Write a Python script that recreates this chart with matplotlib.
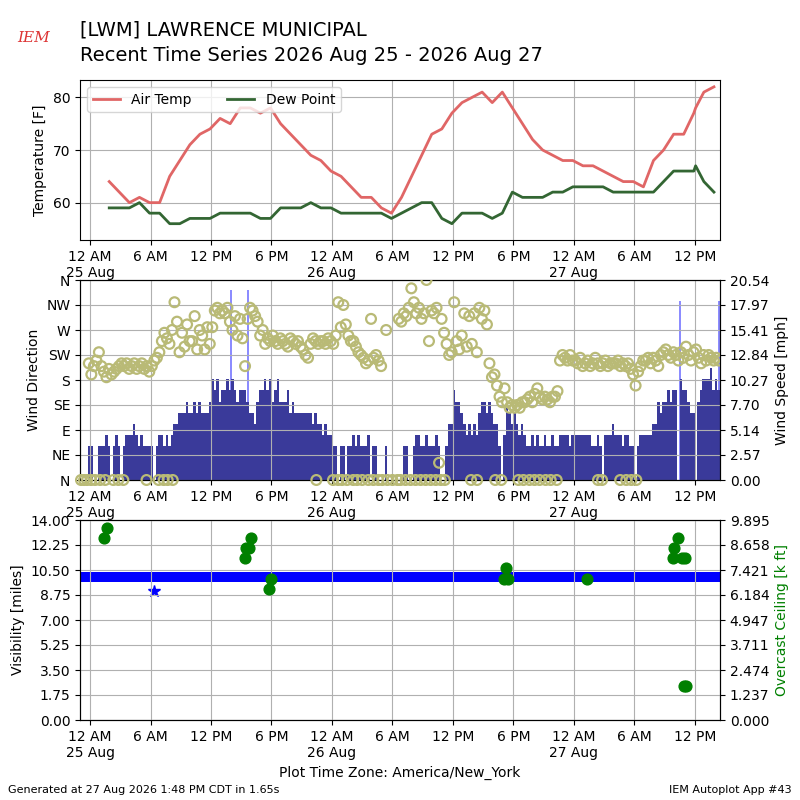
import numpy as np
import matplotlib
matplotlib.use("Agg")
import matplotlib.pyplot as plt
from matplotlib.ticker import FuncFormatter, FixedLocator

# hours are counted from 2026-08-25 00:00 (America/New_York)
nan = float("nan")

# hourly observations (at :54, plus one special at 12:05 on 27 Aug)
obs_hours = [1.9, 2.9, 3.9, 4.9, 5.9, 6.9, 7.9, 8.9, 9.9, 10.9, 11.9, 12.9,
             13.9, 14.9, 15.9, 16.9, 17.9, 18.9, 19.9, 20.9, 21.9, 22.9, 23.9,
             24.9, 25.9, 26.9, 27.9, 28.9, 29.9, 30.9, 31.9, 32.9, 33.9, 34.9,
             35.9, 36.9, 37.9, 38.9, 39.9, 40.9, 41.9, 42.9, 43.9, 44.9, 45.9,
             46.9, 47.9, 48.9, 49.9, 50.9, 51.9, 52.9, 53.9, 54.9, 55.9, 56.9,
             57.9, 58.9, 59.9, 60.08, 60.9, 61.9]
air_temp = [64, 62, 60, 61, 60, 60, 65, 68, 71, 73, 74, 76, 75, 78, 78, 77,
            78, 75, 73, 71, 69, 68, 66, 65, 63, 61, 61, 59, 58, 61, 65, 69,
            73, 74, 77, 79, 80, 81, 79, 81, 78, 75, 72, 70, 69, 68, 68, 67,
            67, 66, 65, 64, 64, 63, 68, 70, 73, 73, 77, 78, 81, 82]
dew_point = [59, 59, 59, 60, 58, 58, 56, 56, 57, 57, 57, 58, 58, 58, 58, 57,
             57, 59, 59, 59, 60, 59, 59, 58, 58, 58, 58, 58, 57, 58, 59, 60,
             60, 57, 56, 58, 58, 58, 57, 58, 62, 61, 61, 61, 62, 62, 63, 63,
             63, 63, 62, 62, 62, 62, 62, 64, 66, 66, 66, 67, 64, 62]

# one-minute wind, summarised as 15 minute values, one row per hour from -1
first_hour = -1
wind_speed_kt = [
    [0, 0, 0, 3], [3, 0, 0, 3], [3, 3, 4, 3], [0, 3, 4, 3], [0, 3, 4, 4],
    [4, 5, 4, 3], [4, 3, 3, 3], [3, 0, 3, 4], [4, 3, 4, 3], [4, 5, 5, 6],
    [6, 6, 7, 6], [6, 7, 6, 7], [6, 6, 6, 7], [9, 8, 9, 7], [8, 8, 9, 8],
    [9, 8, 7, 8], [8, 8, 7, 6], [6, 5, 7, 8], [8, 9, 8, 9], [7, 8, 9, 7],
    [7, 7, 8, 6], [7, 6, 6, 6], [6, 6, 6, 6], [5, 6, 5, 5], [4, 5, 4, 4],
    [3, 3, 0, 3], [3, 0, 3, 3], [4, 3, 4, 3], [3, 3, 4, 0], [3, 3, 0, 0],
    [0, 3, 0, 0], [0, 0, 0, 0], [3, 3, 0, 0], [3, 4, 4, 3], [3, 4, 3, 3],
    [3, 4, 3, 0], [0, 3, 5, 5], [8, 7, 7, 6], [5, 4, 5, 4], [5, 4, 6, 7],
    [7, 6, 7, 6], [5, 5, 3, 0], [4, 7, 6, 5], [6, 5, 4, 5], [4, 3, 3, 4],
    [3, 4, 3, 3], [4, 3, 3, 4], [3, 3, 4, 4], [4, 4, 3, 4], [4, 4, 4, 4],
    [4, 4, 4, 3], [3, 4, 3, 0], [4, 4, 4, 5], [4, 4, 4, 3], [4, 4, 3, 3],
    [0, 3, 4, 4], [4, 4, 4, 5], [5, 7, 6, 7], [7, 8, 7, 8], [8, 0, 9, 8],
    [8, 7, 6, 6], [0, 7, 8, 9], [9, 9, 10, 8], [9, 8],
]
wind_dir = [
    [nan, nan, nan, 210], [190, 205, 215, 230], [205, 195, 185, 200],
    [190, 195, 200, 205], [210, 205, 210, 200], [205, 210, 200, 205],
    [210, 200, 205, 195], [205, 215, 220, 230], [250, 265, 255, 245],
    [270, 320, 285, 230], [265, 240, 280, 250], [250, 295, 235, 270],
    [260, 235, 275, 245], [275, 305, 310, 300], [305, 300, 310, 285],
    [270, 295, 260, 290], [255, 205, 290, 310], [305, 295, 285, 260],
    [270, 245, 255, 250], [260, 250, 245, 255], [250, 245, 240, 255],
    [250, 245, 250, 240], [235, 225, 220, 245], [255, 250, 245, 250],
    [250, 245, 255, 250], [245, 260, 320, 275], [315, 280, 260, 250],
    [250, 240, 230, 225], [220, 210, 215, 290], [220, 225, 215, 205],
    [nan, 270, nan, nan], [nan, nan, 290, 285], [300, 295, 310, 345],
    [320, 300, 310, 290], [300, 360, 250, 305], [300, 310, 31, 290],
    [265, 245, 225, 230], [320, 250, 235, 260], [300, 240, 295, 245],
    [300, 230, 310, 290], [305, 280, 210, 185], [190, 170, 150, 140],
    [165, 140, 130, 135], [130, 135, 130, 140], [140, 145, 150, 140],
    [155, 165, 150, 145], [150, 145, 140, 150], [150, 160, 215, 225],
    [220, 215, 225, 215], [215, 210, 220, 205], [210, 215, 205, 210],
    [220, 210, 205, 210], [215, 205, 210, 210], [210, 215, 205, 210],
    [205, 210, 200, 190], [170, 195, 205, 215], [215, 220, 210, 220],
    [215, 205, 225, 230], [235, 225, 220, 230], [225, 215, 230, 220],
    [240, 225, 215, 230], [235, 220, 210, 225], [215, 225, 220, 215],
    [220, 215],
]
calm_hours = [-0.9, -0.6, -0.3, 0.1, 0.5, 1.0, 1.5, 2.3, 2.8, 3.3, 5.6, 6.8,
              7.3, 7.7, 8.2, 22.45, 24.1, 24.6, 25.0, 25.5, 26.1, 26.5, 27.0,
              27.6, 28.1, 28.6, 29.0, 29.5, 30.0, 30.5, 30.8, 31.3, 31.8, 32.3,
              32.8, 33.3, 33.8, 34.3, 34.8, 35.2, 37.8, 38.4, 40.2, 40.8, 42.5,
              43.0, 43.6, 44.1, 44.6, 45.2, 45.7, 46.3, 50.4, 50.8, 52.6, 53.2,
              53.7, 54.2]
gust_hours = [13.9, 15.6, 58.45, 58.5, 62.35]
gust_kt = [17, 17, 16, 14, 16]

# visibility and ceiling
vis_hours = [-1.0, 62.5]
vis_miles = [10, 10]
vis_special_hours = [6.35]
vis_special_miles = [9]
ceil_hours = [1.42, 1.66, 15.38, 15.45, 15.8, 15.97, 17.79, 17.93, 41.1, 41.27,
              41.45, 49.34, 57.87, 57.94, 58.37, 58.7, 59.03, 58.9, 59.1]
ceil_kft = [9.0, 9.5, 8.0, 8.5, 8.5, 9.0, 6.5, 7.0, 7.0, 7.5, 7.0, 7.0, 8.0,
            8.5, 9.0, 8.0, 8.0, 1.7, 1.7]

KT2MPH = 1.15078
XLIM = (-1.0, 62.5)
OLIVE = "#b9ba76"


def hour_label(h, pos):
    hh = int(round(h))
    names = {0: "12 AM", 6: "6 AM", 12: "12 PM", 18: "6 PM"}
    lbl = names.get(hh % 24, "")
    if hh % 24 == 0:
        lbl += "\n%d Aug" % (25 + hh // 24)
    return lbl


def setup_time_axis(ax):
    ax.set_xlim(*XLIM)
    ax.xaxis.set_major_locator(FixedLocator(np.arange(0, 61, 6)))
    ax.xaxis.set_major_formatter(FuncFormatter(hour_label))


fig = plt.figure(figsize=(8, 8), dpi=100)

# --- temperature panel
ax1 = fig.add_axes([0.10, 0.70, 0.80, 0.20])
ax1.plot(obs_hours, air_temp, color="#e06666", lw=2, label="Air Temp")
ax1.plot(obs_hours, dew_point, color="#336633", lw=2, label="Dew Point")
ax1.set_ylim(52.9, 83.3)
ax1.set_yticks([60, 70, 80])
ax1.set_ylabel("Temperature [F]")
ax1.grid(True)
setup_time_axis(ax1)
ax1.legend(loc="upper left", ncol=2, fontsize=10, columnspacing=2.5)

# --- wind panel: bars on primary (right side), direction on twin (left side)
spd_hours, spd_mph, dir_vals = [], [], []
for i, (srow, drow) in enumerate(zip(wind_speed_kt, wind_dir)):
    for j, (s, d) in enumerate(zip(srow, drow)):
        spd_hours.append(first_hour + i + j * 0.25)
        spd_mph.append(s * KT2MPH)
        dir_vals.append(d)
spd_hours = np.array(spd_hours)
gust_mph = np.array(gust_kt) * KT2MPH
spd_top = gust_mph.max() * 1.05

ax2 = fig.add_axes([0.10, 0.40, 0.80, 0.25])
ax2.bar(gust_hours, gust_mph, width=0.15, align="edge", color="#8c8cff",
        linewidth=0)
ax2.bar(spd_hours, spd_mph, width=0.25, align="edge", color="#3a3a9a",
        linewidth=0)
ax2.set_ylim(0, spd_top)
ax2.set_yticks(np.linspace(0, spd_top, 9))
ax2.yaxis.set_major_formatter(FuncFormatter(lambda v, p: "%.2f" % v))
ax2.grid(True)
setup_time_axis(ax2)

ax2b = ax2.twinx()
ax2b.scatter(spd_hours + 0.125, dir_vals, s=50, facecolors="none",
             edgecolors=OLIVE, linewidths=1.6, zorder=3)
ax2b.scatter(calm_hours, np.zeros(len(calm_hours)), s=50, facecolors="none",
             edgecolors=OLIVE, linewidths=1.6, zorder=3, clip_on=False)
ax2b.set_ylim(0, 360)
ax2b.set_yticks(range(0, 361, 45))
ax2b.set_yticklabels(["N", "NE", "E", "SE", "S", "SW", "W", "NW", "N"])
setup_time_axis(ax2b)

# twinx puts the original axis on the left; swap the sides afterwards
ax2.yaxis.tick_right()
ax2.yaxis.set_label_position("right")
ax2.set_ylabel("Wind Speed [mph]")
ax2b.yaxis.tick_left()
ax2b.yaxis.set_label_position("left")
ax2b.set_ylabel("Wind Direction")

# --- visibility / ceiling panel
ax3 = fig.add_axes([0.10, 0.10, 0.80, 0.25])
ax3.plot(vis_hours, vis_miles, color="#0000ff", lw=7.2, solid_capstyle="butt")
ax3.plot(vis_special_hours, vis_special_miles, "*", color="#0000ff", ms=9)
ax3.set_ylim(0, 14)
ax3.set_yticks(np.linspace(0, 14, 9))
ax3.yaxis.set_major_formatter(FuncFormatter(lambda v, p: "%.2f" % v))
ax3.set_ylabel("Visibility [miles]")
ax3.set_axisbelow(False)
ax3.grid(True)
setup_time_axis(ax3)
ax3.set_xlabel("Plot Time Zone: America/New_York")

ax3b = ax3.twinx()
ax3b.scatter(ceil_hours, ceil_kft, s=60, color="#008000", zorder=3)
ax3b.set_ylim(0, 9.895)
ax3b.set_yticks(np.linspace(0, 9.895, 9))
ax3b.yaxis.set_major_formatter(FuncFormatter(lambda v, p: "%.3f" % v))
ax3b.set_ylabel("Overcast Ceiling [k ft]", color="#008000")
setup_time_axis(ax3b)

# --- titles and footer
fig.text(0.10, 0.9625, "[LWM] LAWRENCE MUNICIPAL", fontsize=14, va="center")
fig.text(0.10, 0.931, "Recent Time Series 2026 Aug 25 - 2026 Aug 27",
         fontsize=14, va="center")
fig.text(0.042, 0.953, "IEM", fontsize=11, color="#dd3333", style="italic",
         family="DejaVu Serif", ha="center", va="center")
fig.text(0.01, 0.013, "Generated at 27 Aug 2026 1:48 PM CDT in 1.65s",
         fontsize=8, va="center")
fig.text(0.99, 0.013, "IEM Autoplot App #43", fontsize=8, ha="right",
         va="center")

fig.savefig("out.png", dpi=100)
